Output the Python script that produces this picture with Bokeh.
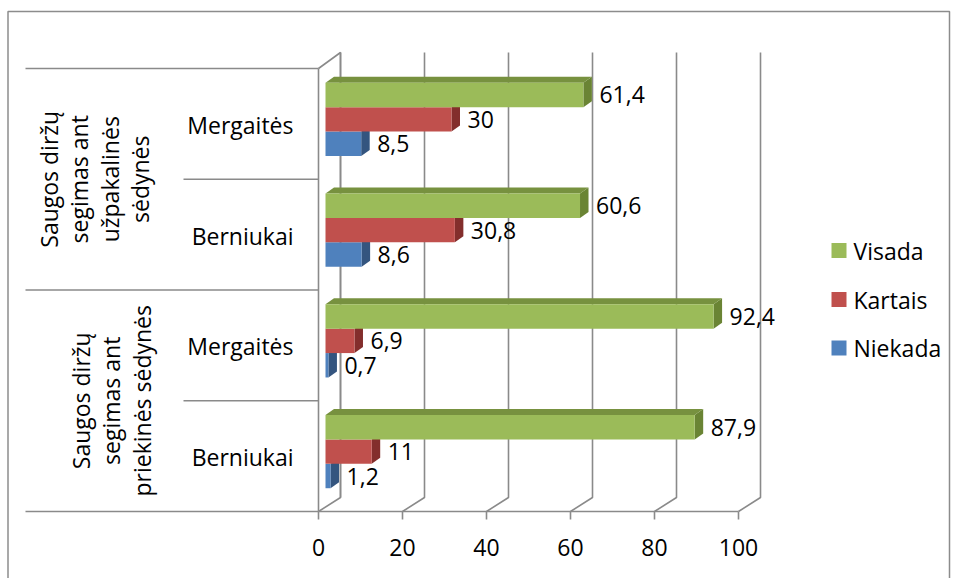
import math
from bokeh.plotting import figure
from bokeh.models import Range1d
from bokeh.core.properties import value
from bokeh.embed import file_html
from bokeh.resources import INLINE

# ---------------- data ----------------
categories = ["Berniukai", "Mergaitės", "Berniukai", "Mergaitės"]   # bottom -> top
group_labels = ["Saugos diržų\nsegimas ant\npriekinės sėdynės",
                "Saugos diržų\nsegimas ant\nužpakalinės\nsėdynės"]
series_names = ["Niekada", "Kartais", "Visada"]
niekada = [1.2, 0.7, 8.6, 8.5]
kartais = [11, 6.9, 30.8, 30]
visada = [87.9, 92.4, 60.6, 61.4]
x_ticks = [0, 20, 40, 60, 80, 100]

front_colors = ["#4F81BD", "#C0504D", "#9BBB59"]
side_colors = ["#34557F", "#832E2C", "#6A8434"]
top_color = "#77913F"
line_col = "#8A8A8A"
FONT = value("Open Sans")
FS = "23px"

# ---------------- layout helpers ----------------
W, H = 952, 578
PXU = 4.2      # px per value unit
PXB = 110.75   # px per category band
X0 = 318       # px of value 0 on the front plane
Y0 = 511       # px (from top) of the front floor line


def xd(px):
    return (px - X0) / PXU


def yd(py):
    return (Y0 - py) / PXB


def dx(px):
    return px / PXU


def dy(px):
    return px / PXB


p = figure(width=W, height=H, x_range=Range1d(xd(0), xd(W)), y_range=Range1d(yd(H), yd(0)),
           output_backend="svg", toolbar_location=None, min_border=0,
           x_axis_type=None, y_axis_type=None)
p.xgrid.visible = False
p.ygrid.visible = False
p.outline_line_color = None
p.background_fill_color = "white"
p.border_fill_color = "white"

# outer chart border (left, top, right)
bx0, bx1 = xd(7.5), xd(949)
by0, by1 = yd(H + 5), yd(11)
p.line([bx0, bx0, bx1, bx1], [by0, by1, by1, by0], line_color="#8C8C8C", line_width=1.5)

DEPX, DEPY = dx(22), dy(14)
top_back = yd(52)
n_bands = len(categories)

# left wall
p.line([0, 0], [0, n_bands], line_color=line_col, line_width=1.6)
p.line([0, DEPX, DEPX], [n_bands, top_back, DEPY], line_color=line_col, line_width=1.6)

# category table lines
for k in range(n_bands + 1):
    left = xd(25) if k % 2 == 0 else xd(183)
    p.line([left, 0], [k, k], line_color=line_col, line_width=1.6)

# floor, back gridlines, ticks
p.line([x_ticks[0], x_ticks[-1]], [0, 0], line_color=line_col, line_width=1.6)
for t in x_ticks:
    p.line([t, t + DEPX, t + DEPX], [0, DEPY, top_back], line_color=line_col, line_width=1.6)
    p.line([t, t], [0, -dy(8)], line_color=line_col, line_width=1.6)

p.text(x=x_ticks, y=[yd(547)] * len(x_ticks), text=[str(t) for t in x_ticks],
       text_font=FONT, text_font_size=FS, text_align="center", text_baseline="middle",
       text_color="black")

# ---------------- 3D bars ----------------
shift_x, shift_y = dx(7), dy(4.5)
bar_h = dy(24.4)
bdx, bdy = dx(8.5), dy(6)
all_series = [niekada, kartais, visada]

side_xs, side_ys, side_c = [], [], []
top_xs, top_ys = [], []
front = []
labels_x, labels_y, labels_t = [], [], []
for k, vals in enumerate(all_series):
    lefts, rights, bots, tops = [], [], [], []
    for i, v in enumerate(vals):
        yc = i + 0.5 + shift_y + (k - 1) * bar_h
        b, t = yc - bar_h / 2, yc + bar_h / 2
        l, r = shift_x, shift_x + v
        lefts.append(l); rights.append(r); bots.append(b); tops.append(t)
        side_xs.append([r, r + bdx, r + bdx, r])
        side_ys.append([b, b + bdy, t + bdy, t])
        side_c.append(side_colors[k])
        if k == len(all_series) - 1:
            top_xs.append([l, l + bdx, r + bdx, r])
            top_ys.append([t, t + bdy, t + bdy, t])
        labels_x.append(r + dx(16))
        labels_y.append(yc)
        labels_t.append(f"{v:g}".replace(".", ","))
    front.append((lefts, rights, bots, tops))

p.patches(xs=side_xs, ys=side_ys, fill_color=side_c, line_color=None)
p.patches(xs=top_xs, ys=top_ys, fill_color=top_color, line_color=None)
for k, (l, r, b, t) in enumerate(front):
    p.quad(left=l, right=r, bottom=b, top=t, fill_color=front_colors[k], line_color=None)

p.text(x=labels_x, y=labels_y, text=labels_t, text_font=FONT, text_font_size=FS,
       text_align="left", text_baseline="middle", text_color="black")

# category labels
p.text(x=[xd(293)] * n_bands, y=[i + 0.5 - dy(1) for i in range(n_bands)], text=categories,
       text_font=FONT, text_font_size=FS, text_align="right", text_baseline="middle",
       text_color="black")

# group labels (rotated)
p.text(x=[xd(111), xd(94)], y=[1, 3], text=group_labels, angle=math.pi / 2,
       text_font=FONT, text_font_size=FS, text_align="center", text_baseline="middle",
       text_color="black", text_line_height=0.95)

# ---------------- legend ----------------
leg_names = series_names[::-1]
leg_colors = front_colors[::-1]
leg_y = [yd(250), yd(299), yd(347.5)]
p.scatter(x=[xd(838.5)] * 3, y=leg_y, marker="square", size=15, fill_color=leg_colors,
          line_color=None)
p.text(x=[xd(853)] * 3, y=leg_y, text=leg_names, text_font=FONT, text_font_size=FS,
       text_align="left", text_baseline="middle", text_color="black")

open("out.html", "w").write(file_html(p, INLINE))
